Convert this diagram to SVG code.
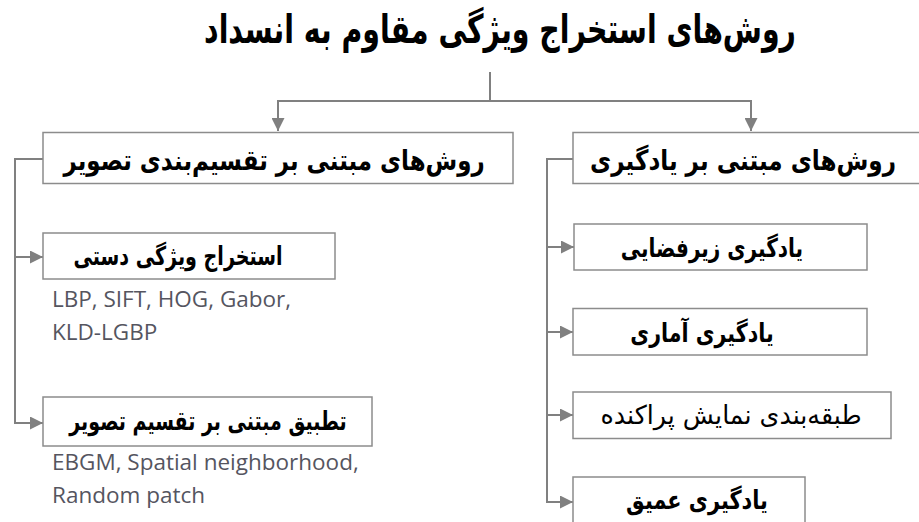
<svg xmlns="http://www.w3.org/2000/svg" width="919" height="522" viewBox="0 0 919 522">
  <defs>
    <marker id="arrow" viewBox="0 0 12 12" refX="12" refY="6" markerWidth="13" markerHeight="13" markerUnits="userSpaceOnUse" orient="auto">
      <path d="M0,0 L12,6 L0,12 Z" fill="#808080"/>
    </marker>
    <style>
      .box { fill: #ffffff; stroke: #8c8c8c; stroke-width: 1.5; }
      .fa { font-family: "DejaVu Sans", sans-serif; font-weight: bold; fill: #000000; text-anchor: middle; direction: rtl; }
      .fa-reg { font-weight: normal; }
      .en { font-family: "Open Sans", "Liberation Sans", sans-serif; font-size: 22.5px; fill: #55555f; }
      .wire { fill: none; stroke: #808080; stroke-width: 2; }
    </style>
  </defs>

  <rect width="919" height="522" fill="#ffffff"/>

  <!-- title (Persian text narrowed horizontally with a scale transform) -->
  <g id="title">
    <text class="fa" font-size="40" transform="translate(500,43) scale(0.709,1)">روش‌های استخراج ویژگی مقاوم به انسداد</text>
  </g>

  <!-- connectors -->
  <g id="connectors">
    <path class="wire" d="M490,72 V101"/>
    <path class="wire" d="M278,101 H751"/>
    <path class="wire" d="M278,100 V131" marker-end="url(#arrow)"/>
    <path class="wire" d="M751,100 V131" marker-end="url(#arrow)"/>
    <!-- left branch -->
    <path class="wire" d="M43,159 H15 V423"/>
    <path class="wire" d="M14,257 H43" marker-end="url(#arrow)"/>
    <path class="wire" d="M14,423 H43" marker-end="url(#arrow)"/>
    <!-- right branch -->
    <path class="wire" d="M573,159 H547 V502"/>
    <path class="wire" d="M546,247 H574" marker-end="url(#arrow)"/>
    <path class="wire" d="M546,332 H573" marker-end="url(#arrow)"/>
    <path class="wire" d="M546,415 H573" marker-end="url(#arrow)"/>
    <path class="wire" d="M546,502 H573" marker-end="url(#arrow)"/>
  </g>

  <!-- image-partition methods -->
  <g id="partition">
    <rect class="box" x="43" y="132.5" width="470" height="51"/>
    <text class="fa" font-size="28" transform="translate(274,170) scale(0.819,1)">روش‌های مبتنی بر تقسیم‌بندی تصویر</text>
  </g>

  <g id="handcrafted">
    <rect class="box" x="43" y="233" width="292" height="46"/>
    <text class="fa" font-size="26" transform="translate(178,265) scale(0.734,1)">استخراج ویژگی دستی</text>
    <text class="en" x="52" y="307">LBP, SIFT, HOG, Gabor,</text>
    <text class="en" x="52" y="340">KLD-LGBP</text>
  </g>

  <g id="partition-matching">
    <rect class="box" x="43" y="397" width="329" height="49"/>
    <text class="fa" font-size="26" transform="translate(208,430) scale(0.731,1)">تطبیق مبتنی بر تقسیم تصویر</text>
    <text class="en" x="52" y="470">EBGM, Spatial neighborhood,</text>
    <text class="en" x="52" y="503">Random patch</text>
  </g>

  <!-- learning-based methods -->
  <g id="learning">
    <rect class="box" x="573" y="132.5" width="347" height="51"/>
    <text class="fa" font-size="28" transform="translate(743,170) scale(0.825,1)">روش‌های مبتنی بر یادگیری</text>
  </g>

  <g id="subspace">
    <rect class="box" x="574" y="224" width="293" height="46"/>
    <text class="fa" font-size="26" transform="translate(712,257) scale(0.769,1)">یادگیری زیرفضایی</text>
  </g>

  <g id="statistical">
    <rect class="box" x="573" y="308.5" width="294" height="46.5"/>
    <text class="fa" font-size="26" transform="translate(702,342) scale(0.791,1)">یادگیری آماری</text>
  </g>

  <g id="sparse">
    <rect class="box" x="573" y="392" width="318" height="46.5"/>
    <text class="fa fa-reg" font-size="26" transform="translate(731,424) scale(0.974,1)">طبقه‌بندی نمایش پراکنده</text>
  </g>

  <g id="deep">
    <rect class="box" x="573" y="477" width="232" height="60"/>
    <text class="fa" font-size="26" transform="translate(697,509) scale(0.802,1)">یادگیری عمیق</text>
  </g>
</svg>
